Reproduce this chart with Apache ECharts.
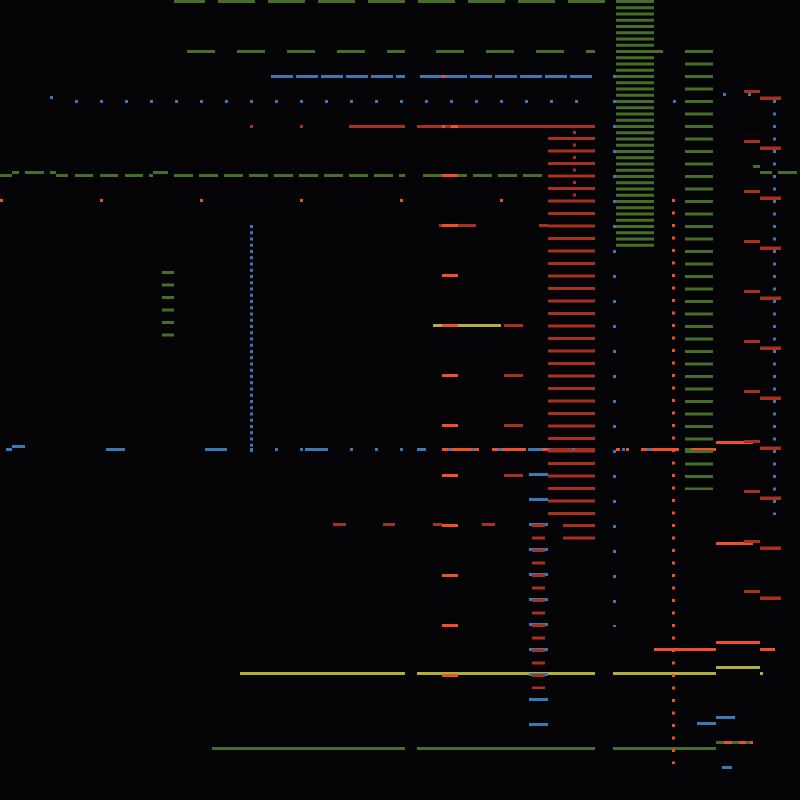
<!DOCTYPE html>
<html>
<head>
    <meta charset="utf-8">
    <title>Segments</title>
    <script src="https://cdn.jsdelivr.net/npm/echarts@6/dist/echarts.min.js"></script>
    <style>
        html, body { margin: 0; padding: 0; background: #040406; }
    </style>
</head>
<body>
    <div id="main" style="width:800px;height:800px;"></div>

    <script type="text/javascript">
        // colours
        var GREEN = '#466e28', BLUE = '#3b78b8', RED = '#a8301e', ORANGE = '#f05028', YELLOW = '#b4ad3c';

        // dashed runs: start point, end point
        var greenTopRow = [[174, 1.5], [605, 1.5]];
        var greenRow51a = [[187, 51.5], [405, 51.5]];
        var greenRow51b = [[436, 51.5], [595, 51.5]];
        var greenRow175a = [[174, 175.5], [405, 175.5]];
        var greenRow175b = [[473, 175.5], [542, 175.5]];
        var greenLadder = [[635, 0], [635, 247]];
        var greenColumn = [[699, 50], [699, 490]];
        var greenStack = [[168, 271], [168, 337]];

        var blueRow76a = [[271, 76.5], [405, 76.5]];
        var blueRow76b = [[420, 76.5], [592, 76.5]];
        var blueRow101 = [[75, 101.5], [578, 101.5]];
        var blueRow449 = [[250, 449.5], [403, 449.5]];
        var blueCol614 = [[614.5, 75], [614.5, 627]];
        var blueCol774 = [[774.5, 100], [774.5, 515]];
        var blueCol251 = [[251.5, 225], [251.5, 452]];
        var blueCol538 = [[538.5, 473], [538.5, 726]];

        var redCol572 = [[571.5, 137], [571.5, 515]];
        var redDots574 = [[574.5, 131], [574.5, 197]];
        var redCol579 = [[579, 524], [579, 540]];
        var redCol513 = [[513.5, 324], [513.5, 477]];
        var redCol538 = [[538.5, 524], [538.5, 689]];
        var redPairsL = [[752, 90], [752, 594]];
        var redPairsR = [[770.5, 96.5], [770.5, 600]];

        var orangeRow200 = [[0, 200.5], [503, 200.5]];
        var orangeCol673 = [[673.5, 199], [673.5, 764]];
        var orangeCol450 = [[450, 174], [450, 677]];

        // single segments: x0, x1, y
        var greenBars = [
            [654, 663, 51.5],
            [0, 12, 175.5], [56, 68, 175.5], [75, 93, 175.5], [100, 118, 175.5], [125, 143, 175.5], [149, 153, 175.5],
            [12, 19, 172.5], [25, 44, 172.5], [50, 56, 172.5], [153, 168, 172.5],
            [423, 442, 175.5], [458, 467, 175.5],
            [753, 760, 166.5], [760, 772, 172.5], [778, 797, 172.5],
            [685, 691, 449.5],
            [212, 405, 748.5], [417, 595, 748.5], [613, 716, 748.5],
            [716, 724, 742.5], [732, 739, 742.5], [746, 750, 742.5]
        ];
        var blueBars = [
            [50, 53, 97.5], [723, 726, 94.5], [748, 751, 94.5], [673, 676, 101.5],
            [6, 12, 449.5], [12, 25, 446.5], [106, 125, 449.5], [205, 227, 449.5], [305, 327, 449.5],
            [417, 426, 449.5], [448, 451, 449.5], [472, 475, 449.5], [498, 502, 449.5], [528, 542, 449.5],
            [548, 551, 449.5], [572, 575, 449.5], [622, 625, 449.5], [647, 651, 449.5],
            [697, 716, 723.5], [716, 735, 717.5], [722, 732, 767.5]
        ];
        var yellowBars = [
            [433, 501, 325.5],
            [240, 405, 673.5], [417, 595, 673.5], [613, 716, 673.5], [760, 763, 673.5],
            [716, 760, 667.5]
        ];
        var redBars = [
            [250, 253, 126.5], [300, 303, 126.5], [349, 405, 126.5], [417, 595, 126.5],
            [439, 476, 225.5], [539, 548, 225.5],
            [333, 346, 524.5], [383, 395, 524.5], [433, 442, 524.5], [482, 495, 524.5],
            [551, 572, 449.5], [575, 595, 449.5]
        ];
        var orangeBars = [
            [442, 445, 76.5], [442, 445, 126.5], [451, 458, 126.5],
            [442, 448, 449.5], [451, 472, 449.5], [475, 479, 449.5], [492, 498, 449.5], [502, 526, 449.5],
            [542, 548, 449.5], [616, 620, 449.5], [626, 629, 449.5], [641, 647, 449.5], [651, 679, 449.5],
            [691, 716, 449.5], [716, 753, 442.5], [716, 753, 543.5], [716, 760, 642.5],
            [654, 716, 649.5], [760, 775, 649.5],
            [724, 732, 742.5], [739, 746, 742.5], [750, 753, 742.5]
        ];

        function dashed(data, color, width, dash, offset) {
            return {
                type: 'line', data: data, symbol: 'none', silent: true, clip: false,
                lineStyle: { color: color, width: width, type: dash, dashOffset: offset || 0, cap: 'butt' }
            };
        }

        function bars(data, color, h) {
            return {
                type: 'custom', data: data, silent: true, clip: false,
                renderItem: function (params, api) {
                    var a = api.coord([api.value(0), api.value(2)]);
                    var b = api.coord([api.value(1), api.value(2)]);
                    return {
                        type: 'rect',
                        shape: { x: a[0], y: a[1] - h / 2, width: b[0] - a[0], height: h },
                        style: { fill: color }
                    };
                }
            };
        }

        var chart = echarts.init(document.getElementById('main'));
        chart.setOption({
            backgroundColor: '#040406',
            animation: false,
            grid: { left: 0, right: 0, top: 0, bottom: 0 },
            xAxis: { type: 'value', min: 0, max: 800, show: false },
            yAxis: { type: 'value', min: 0, max: 800, inverse: true, show: false },
            series: [
                dashed(greenTopRow, GREEN, 3, [37, 13], 6),
                dashed(greenRow51a, GREEN, 3, [28, 22]),
                dashed(greenRow51b, GREEN, 3, [28, 22]),
                dashed(greenRow175a, GREEN, 3, [19, 6]),
                dashed(greenRow175b, GREEN, 3, [19, 6]),
                dashed(greenLadder, GREEN, 38, [3, 3.25]),
                dashed(greenColumn, GREEN, 28, [3, 9.5]),
                dashed(greenStack, GREEN, 12, [3, 9.5]),
                bars(greenBars, GREEN, 3),

                dashed(blueRow76a, BLUE, 3, [22, 3]),
                dashed(blueRow76b, BLUE, 3, [22, 3]),
                dashed(blueRow101, BLUE, 3, [3, 22]),
                dashed(blueRow449, BLUE, 3, [3, 22]),
                dashed(blueCol614, BLUE, 3, [3, 22]),
                dashed(blueCol774, BLUE, 3, [3, 9.5]),
                dashed(blueCol251, BLUE, 3, [3, 3.25]),
                dashed(blueCol538, BLUE, 19, [3, 22]),
                bars(blueBars, BLUE, 3),

                bars(yellowBars, YELLOW, 3),

                dashed(redCol572, RED, 47, [3, 9.5]),
                dashed(redDots574, RED, 3, [3, 9.5]),
                dashed(redCol579, RED, 32, [3, 9.5]),
                dashed(redCol513, RED, 19, [3, 47]),
                dashed(redCol538, RED, 13, [3, 9.5]),
                dashed(redPairsL, RED, 16, [3, 47]),
                dashed(redPairsR, RED, 21, [3.5, 46.5]),
                bars(redBars, RED, 3),

                dashed(orangeRow200, ORANGE, 3, [3, 97]),
                dashed(orangeCol673, ORANGE, 3, [3, 9.5]),
                dashed(orangeCol450, ORANGE, 16, [3, 47]),
                bars(orangeBars, ORANGE, 3)
            ]
        });
    </script>
</body>
</html>
